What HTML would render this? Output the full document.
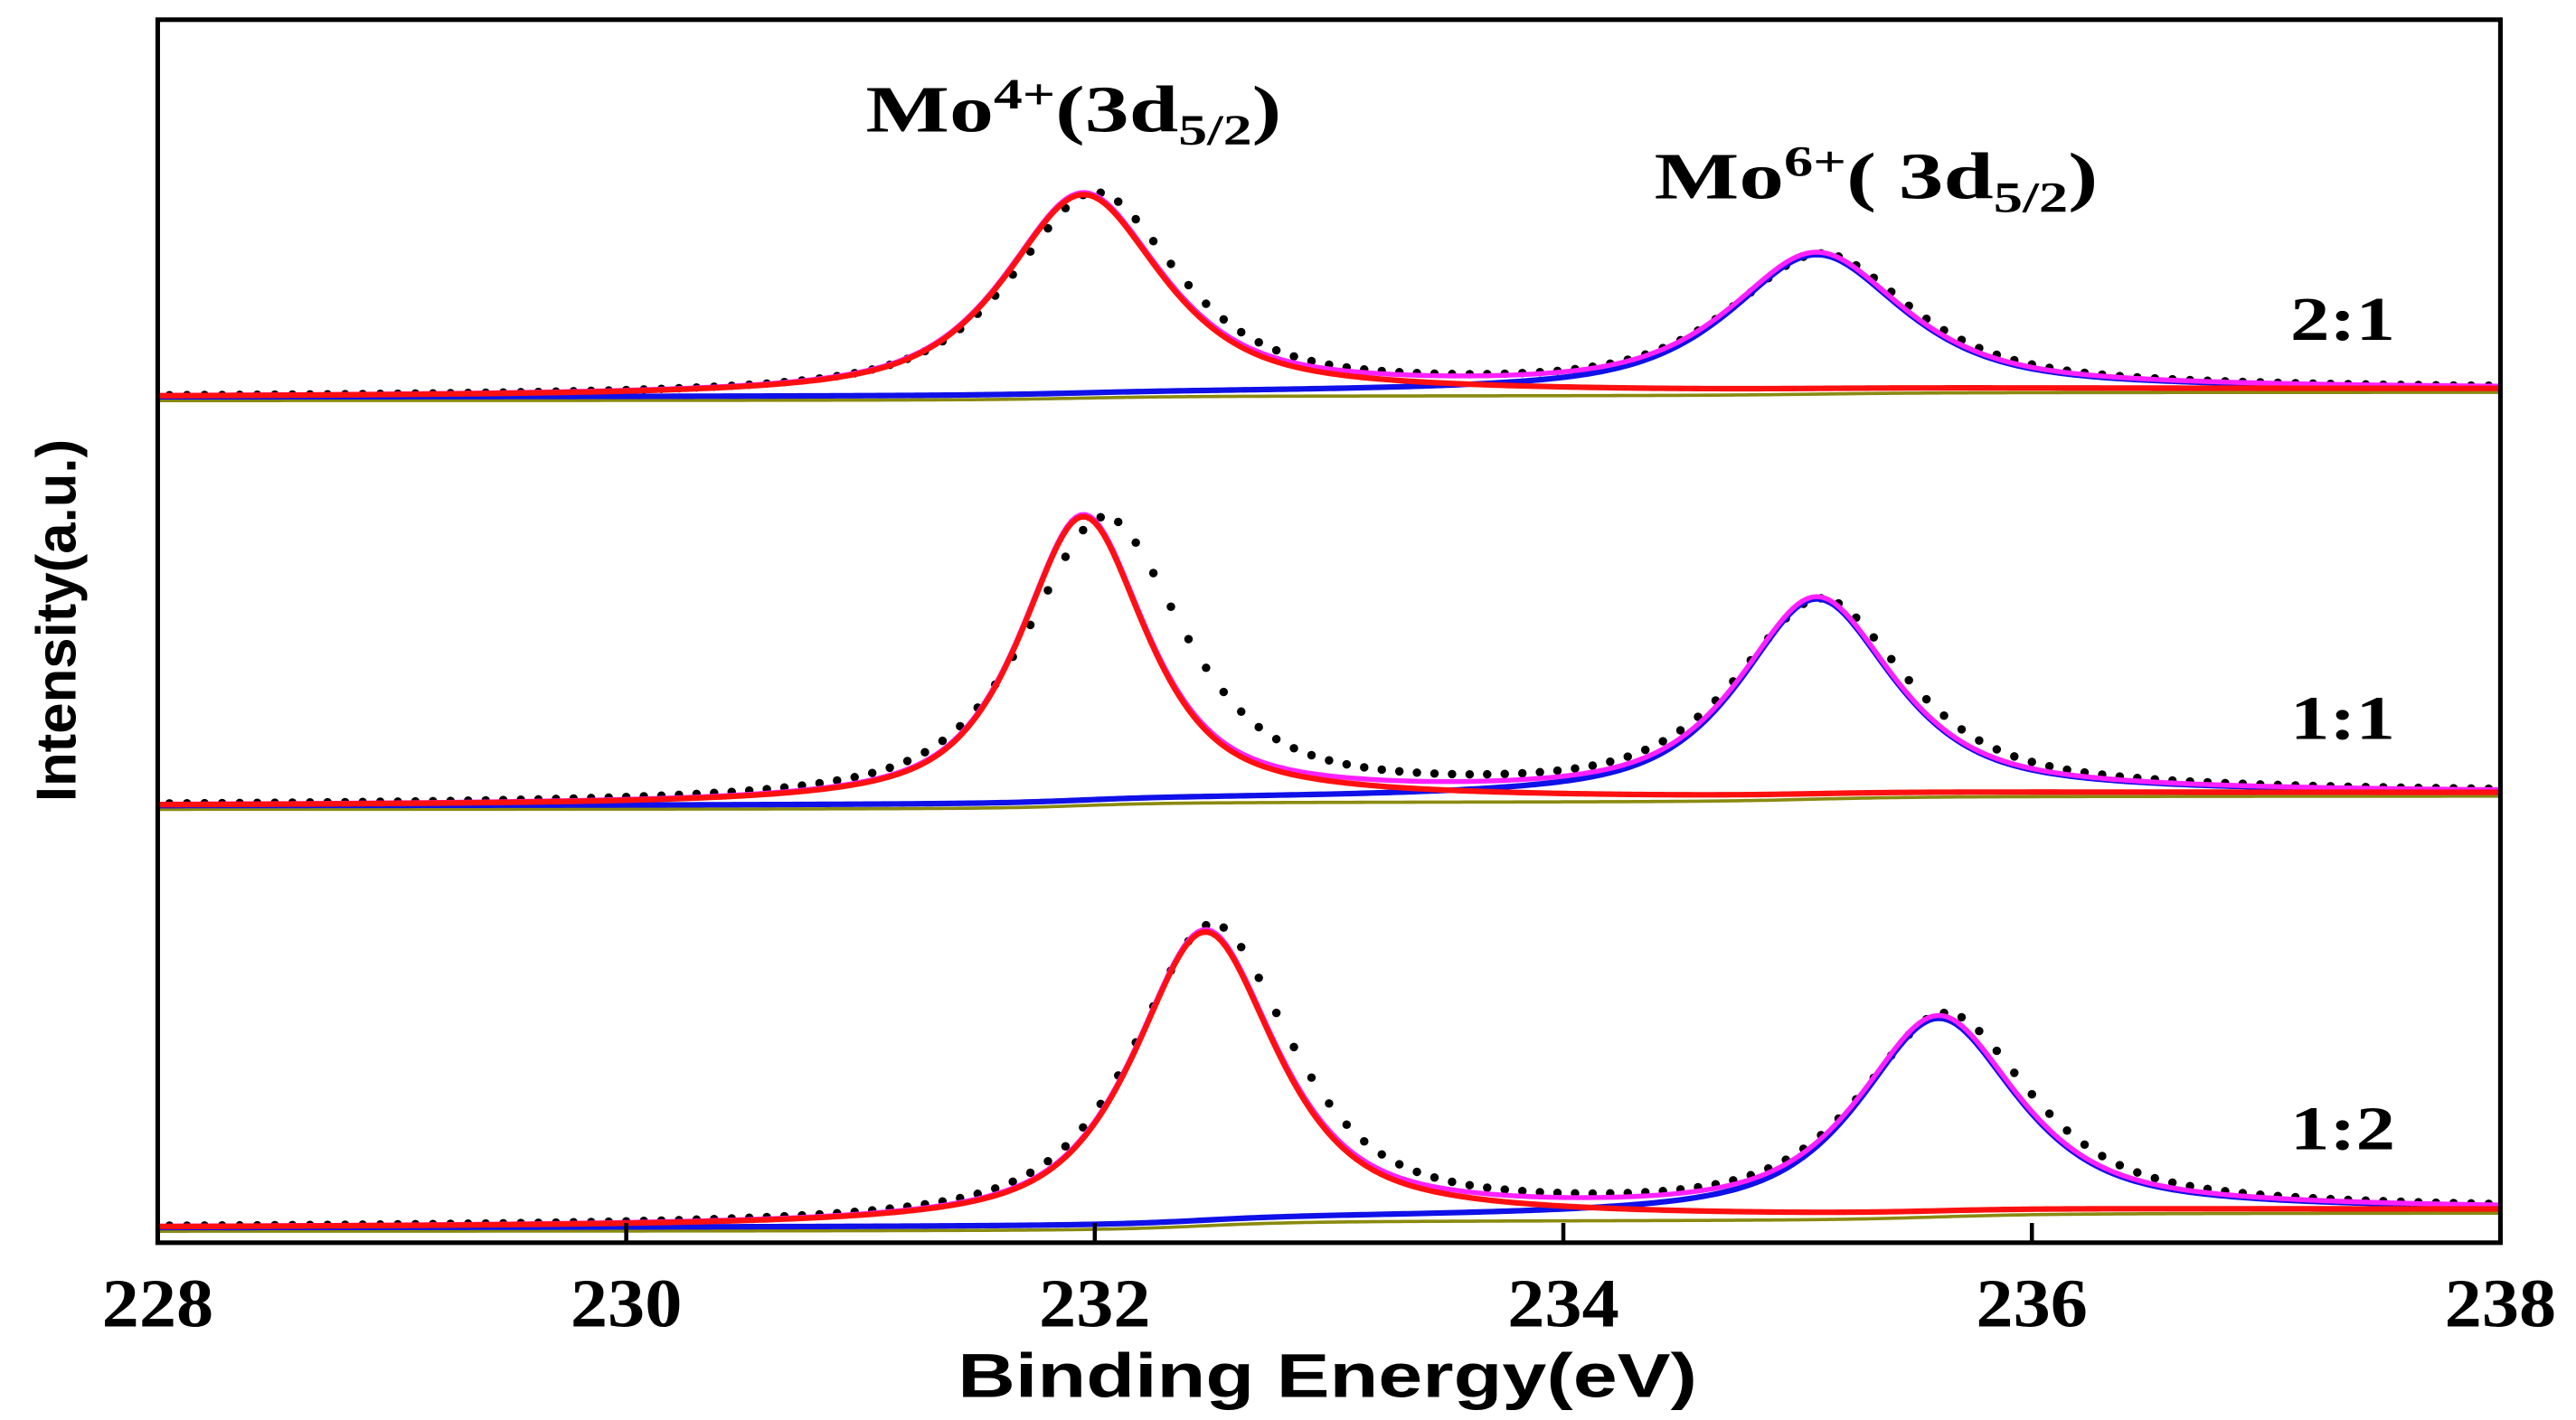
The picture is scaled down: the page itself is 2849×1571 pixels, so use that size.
<!DOCTYPE html>
<html><head><meta charset="utf-8"><style>
html,body{margin:0;padding:0;background:#fff;}
svg{display:block;}
</style></head><body>
<svg id="chart" width="2849" height="1571" viewBox="0 0 1568 865" preserveAspectRatio="none" xmlns="http://www.w3.org/2000/svg">
<rect x="0" y="0" width="1568" height="865" fill="#fff"/>
<g id="plot"></g>
<rect x="96" y="12" width="1426" height="745" fill="none" stroke="#000" stroke-width="2.8"/>
<g id="xticks"></g>
<text x="583" y="851" textLength="450" lengthAdjust="spacingAndGlyphs" font-family="Liberation Sans, sans-serif" font-weight="bold" font-size="38">Binding Energy(eV)</text>
<text transform="translate(46,378) rotate(-90)" text-anchor="middle" font-family="Liberation Sans, sans-serif" font-weight="bold" font-size="34">Intensity(a.u.)</text>
<text x="527" y="80" textLength="253" lengthAdjust="spacingAndGlyphs" font-family="Liberation Serif, serif" font-weight="bold" font-size="40">Mo<tspan font-size="26" dy="-14">4+</tspan><tspan dy="14">(3d</tspan><tspan font-size="26" dy="8">5/2</tspan><tspan dy="-8">)</tspan></text>
<text x="1007" y="121" textLength="270" lengthAdjust="spacingAndGlyphs" font-family="Liberation Serif, serif" font-weight="bold" font-size="40">Mo<tspan font-size="26" dy="-14">6+</tspan><tspan dy="14">( 3d</tspan><tspan font-size="26" dy="8">5/2</tspan><tspan dy="-8">)</tspan></text>
<g id="labels"></g>
</svg>
<script>
const ticks = [228, 230, 232, 234, 236, 238];
const samples = ["2:1", "1:1", "1:2"];
const baseLeft = [515, 266, 9];
const baseRight = [520, 274, 20];
const mo4Center = [231.95, 231.95, 232.47];
const mo4Height = [122, 174, 177];
const mo4Fwhm = [0.8, 0.64, 0.72];
const mo6Center = [235.08, 235.08, 235.6];
const mo6Height = [83, 120, 119];
const mo6Fwhm = [0.88, 0.78, 0.8];
const dataMo4Center = [232.0, 232.04, 232.5];
const dataMo4Height = [122, 172, 180];
const dataMo4Fwhm = [0.84, 0.8, 0.8];
const dataMo6Center = [235.1, 235.1, 235.63];
const dataMo6Height = [82, 118, 120];
const dataMo6Fwhm = [0.92, 0.86, 0.86];
const labelY = [550, 307, 57];

const X0=228, X1=238, PX0=96, PX1=1522, PY0=757, ETA=0.75;
const xs = v => PX0 + (v - X0) / (X1 - X0) * (PX1 - PX0);
const ys = v => PY0 - v;
const NS = "http://www.w3.org/2000/svg";
function pv(x, c, h, w){ const d=(x-c)/w; return h*(ETA/(1+4*d*d) + (1-ETA)*Math.exp(-4*Math.LN2*d*d)); }
function shirley(xsArr, sig, l, r){
  const cum=[0]; for(let i=1;i<xsArr.length;i++) cum.push(cum[i-1]+sig[i]);
  const tot=cum[cum.length-1]||1; return cum.map(c=>l+(r-l)*c/tot);
}
function path(pts, color, w, name){
  const p=document.createElementNS(NS,"path");
  p.setAttribute("d", pts.map((q,i)=>(i?"L":"M")+xs(q[0]).toFixed(2)+" "+ys(q[1]).toFixed(2)).join(""));
  p.setAttribute("fill","none"); p.setAttribute("stroke",color); p.setAttribute("stroke-width",w);
  p.setAttribute("stroke-linejoin","round");
  
  
  document.getElementById("plot").appendChild(p);
}
const grid=[]; for(let i=0;i<=500;i++) grid.push(X0+(X1-X0)*i/500);
samples.forEach((s,k)=>{
  const p4=grid.map(x=>pv(x,mo4Center[k],mo4Height[k],mo4Fwhm[k]));
  const p6=grid.map(x=>pv(x,mo6Center[k],mo6Height[k],mo6Fwhm[k]));
  const bg=shirley(grid, p4.map((v,i)=>v+p6[i]), baseLeft[k], baseRight[k]);
  path(grid.map((x,i)=>[x,bg[i]-2]), "#8a8a10", 2, "background-"+s);
  path(grid.map((x,i)=>[x,bg[i]+p6[i]]), "#1010e8", 3.4, "mo6-fit-"+s);
  path(grid.map((x,i)=>[x,bg[i]+p4[i]+p6[i]]), "#ff20ff", 3, "envelope-"+s);
  path(grid.map((x,i)=>[x,bg[i]+p4[i]]), "#ff1010", 3.4, "mo4-fit-"+s);
  const dx=[]; for(let x=228.05;x<238;x+=0.075) dx.push(x);
  const d4=dx.map(x=>pv(x,dataMo4Center[k],dataMo4Height[k],dataMo4Fwhm[k]));
  const d6=dx.map(x=>pv(x,dataMo6Center[k],dataMo6Height[k],dataMo6Fwhm[k]));
  const dbg=shirley(dx, d4.map((v,i)=>v+d6[i]), baseLeft[k], baseRight[k]);
  const g=document.createElementNS(NS,"g");
  
  
  dx.forEach((x,i)=>{
    const c=document.createElementNS(NS,"circle");
    c.setAttribute("cx",xs(x).toFixed(2)); c.setAttribute("cy",ys(dbg[i]+d4[i]+d6[i]).toFixed(2));
    c.setAttribute("r","2.6"); c.setAttribute("fill","#000");
    
    
    g.appendChild(c);
  });
  document.getElementById("plot").insertBefore(g, document.getElementById("plot").firstChild);
  const t=document.createElementNS(NS,"text");
  t.setAttribute("x",1394); t.setAttribute("y",ys(labelY[k]).toFixed(1));
  t.setAttribute("textLength","64"); t.setAttribute("lengthAdjust","spacingAndGlyphs");
  t.setAttribute("font-family","Liberation Serif, serif"); t.setAttribute("font-weight","bold"); t.setAttribute("font-size","38");
  t.textContent=s;
  
  
  document.getElementById("labels").appendChild(t);
});
const xt=document.getElementById("xticks");
ticks.forEach(v=>{
  const l=document.createElementNS(NS,"line");
  l.setAttribute("x1",xs(v)); l.setAttribute("x2",xs(v)); l.setAttribute("y1",PY0); l.setAttribute("y2",PY0-12);
  l.setAttribute("stroke","#000"); l.setAttribute("stroke-width","2.5");
  
  
  xt.appendChild(l);
  const t=document.createElementNS(NS,"text");
  t.setAttribute("x",xs(v)-34); t.setAttribute("y",808);
  t.setAttribute("textLength","68"); t.setAttribute("lengthAdjust","spacingAndGlyphs");
  t.setAttribute("font-family","Liberation Serif, serif"); t.setAttribute("font-weight","bold"); t.setAttribute("font-size","42");
  t.textContent=v;
  
  
  xt.appendChild(t);
});
</script>
</body></html>
